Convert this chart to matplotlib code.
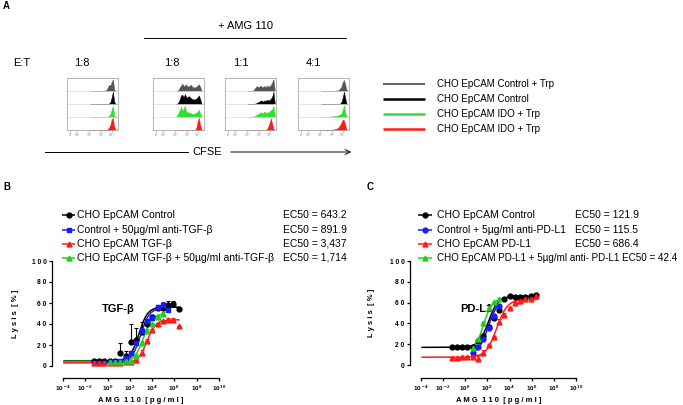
import numpy as np
import matplotlib
matplotlib.use("Agg")
import matplotlib.pyplot as plt
from matplotlib.ticker import FuncFormatter, NullLocator

plt.rcParams['font.family'] = ['Liberation Sans', 'DejaVu Sans']
plt.rcParams['mathtext.fontset'] = 'custom'
plt.rcParams['mathtext.rm'] = 'Liberation Sans'
plt.rcParams['mathtext.bf'] = 'Liberation Sans:bold'

W, H = 683, 405

# ---------------- panel A data (CFSE histograms, relative heights) ----------------
ratios = ['1:8', '1:8', '1:1', '4:1']
hist_bins = [0.45, 0.475, 0.50, 0.525, 0.55, 0.575, 0.60, 0.625, 0.65, 0.675, 0.70,
             0.725, 0.75, 0.775, 0.80, 0.825, 0.85, 0.875, 0.90, 0.925, 0.95, 0.975]
hist_colors = ['#555555', '#000000', '#33dd33', '#ff1a1a']
hist_labels = ['CHO EpCAM Control + Trp', 'CHO EpCAM Control',
               'CHO EpCAM IDO + Trp', 'CHO EpCAM IDO + Trp']

box1 = [
    [0, 0, 0, 0, 0, 0, 0, 0, 0, 0, 0, 0, 0.03, 0.1, 0.3, 0.5, 0.45, 0.75, 0.95, 0.15, 0, 0],
    [0, 0, 0, 0, 0, 0, 0, 0, 0, 0, 0, 0, 0, 0, 0, 0.05, 0.15, 0.55, 1.0, 0.2, 0, 0],
    [0, 0, 0, 0, 0, 0, 0, 0, 0, 0, 0, 0, 0, 0, 0.03, 0.1, 0.25, 0.6, 0.9, 0.15, 0, 0],
    [0, 0, 0, 0, 0, 0, 0, 0, 0, 0, 0, 0, 0, 0.03, 0.08, 0.2, 0.45, 0.85, 1.0, 0.3, 0.02, 0],
]
box2 = [
    [0, 0.02, 0.1, 0.3, 0.45, 0.6, 0.4, 0.45, 0.55, 0.35, 0.4, 0.45, 0.5, 0.3, 0.3, 0.3, 0.35, 0.45, 0.55, 0.35, 0.05, 0],
    [0, 0.03, 0.15, 0.4, 0.7, 0.75, 0.55, 0.8, 0.6, 0.5, 0.65, 0.55, 0.45, 0.4, 0.35, 0.4, 0.45, 0.55, 0.7, 0.4, 0.05, 0],
    [0.02, 0.15, 0.35, 0.55, 0.85, 0.5, 0.7, 0.9, 0.45, 0.35, 0.4, 0.3, 0.3, 0.25, 0.25, 0.3, 0.35, 0.45, 0.6, 0.3, 0.03, 0],
    [0, 0, 0, 0, 0, 0, 0, 0, 0, 0, 0, 0, 0, 0, 0, 0.03, 0.2, 0.7, 1.0, 0.4, 0.05, 0],
]
box3 = [
    [0, 0, 0, 0.02, 0.05, 0.15, 0.3, 0.4, 0.3, 0.35, 0.45, 0.3, 0.35, 0.4, 0.3, 0.45, 0.35, 0.4, 0.5, 0.7, 0.95, 0.1],
    [0, 0, 0, 0, 0, 0.02, 0.05, 0.1, 0.15, 0.2, 0.3, 0.25, 0.2, 0.3, 0.25, 0.35, 0.3, 0.3, 0.45, 0.6, 1.0, 0.1],
    [0, 0, 0, 0, 0.02, 0.05, 0.1, 0.2, 0.25, 0.3, 0.4, 0.3, 0.35, 0.45, 0.3, 0.4, 0.35, 0.45, 0.55, 0.65, 0.9, 0.1],
    [0, 0, 0, 0, 0, 0, 0, 0, 0, 0, 0, 0, 0, 0, 0.03, 0.1, 0.3, 0.6, 0.95, 0.5, 0.1, 0],
]
box4 = [
    [0, 0, 0, 0, 0, 0, 0, 0, 0, 0, 0, 0, 0.02, 0.05, 0.1, 0.2, 0.35, 0.7, 0.9, 0.55, 0.1, 0],
    [0, 0, 0, 0, 0, 0, 0, 0, 0, 0, 0, 0, 0, 0, 0, 0.05, 0.15, 0.5, 1.0, 0.5, 0.05, 0],
    [0, 0, 0, 0, 0, 0, 0.02, 0.03, 0.05, 0.05, 0.07, 0.08, 0.1, 0.12, 0.15, 0.2, 0.3, 0.55, 0.95, 0.4, 0.05, 0],
    [0, 0, 0, 0, 0, 0, 0, 0, 0.02, 0.03, 0.05, 0.07, 0.1, 0.15, 0.25, 0.4, 0.6, 0.85, 0.8, 0.45, 0.05, 0],
]
hist_sets = [box1, box2, box3, box4]
hist_ticks = [0.06, 0.2, 0.43, 0.67, 0.88]
hist_ticklabels = ['0', '10²', '10³', '10⁴', '10⁵']

# ---------------- panels B / C data (lysis %) ----------------
conc = np.array([0.0574, 0.172, 0.517, 1.55, 4.65, 14.0, 41.8, 125, 376, 1129, 3387,
                 10160, 30480, 91450, 274300, 823000, 2500000])
nan = np.nan

b_ctrl = [5, 5, 5, 5, 5, 12, 10, 23, 25, 32, 40, 47, 55, 55, 58, 59, 54]
b_ctrl_err = [0, 0, 0, 0, 0, 10, 4, 17, 11, 10, 3, 2, 2, 2, 4, 3, 0]
b_anti = [3, 3, 3, 3.5, 3.5, 5, 8, 12, 22, 33, 43, 46, 56, 58, 53, nan, nan]
b_anti_err = [0, 0, 0, 0, 0, 0, 0, 2, 3, 3, 2, 2, 2, 3, 2, 0, 0]
b_tgf = [3, 3, 3, 3, 3, 3, 3.5, 4, 5.5, 12, 24, 34, 40, 43, 44, 44, 38]
b_tgf_err = [0, 0, 0, 0, 0, 0, 0, 0, 1, 3, 2, 1, 1, 1, 2, 2, 0]
b_tgfanti = [nan, nan, nan, 4, 4, 4, 4.5, 5, 10, 22, 33, 40, 47, 50, nan, nan, nan]
b_tgfanti_err = [0, 0, 0, 0, 0, 0, 0, 0, 1, 2, 2, 1, 1, 1, 0, 0, 0]

c_ctrl = [17, 17, 17.5, 17, 17.5, 23, 28, 37, 45, 53, 63, 66, 65.5, 65, 65, 66, 67]
c_ctrl_err = [0, 0, 0, 0, 0, 1, 1, 1, 1, 1, 1, 1, 0, 0, 0, 1, 1]
c_anti = [nan, nan, nan, nan, 12, 17, 25, 36, 47, 57, nan, nan, nan, nan, nan, nan, nan]
c_anti_err = [0, 0, 0, 0, 1, 1, 1, 1, 1, 1, 0, 0, 0, 0, 0, 0, 0]
c_pdl1 = [7, 7, 7.5, 7.5, 7.5, 6, 12, 19, 27, 41, 48, 55, 60, 62, 63, 63, 66]
c_pdl1_err = [0, 0, 0, 0, 0, 3, 2.5, 1, 1, 3, 2, 1, 1, 1, 1, 1, 1]
c_pdl1anti = [nan, nan, nan, nan, 16, 25, 40, 55, 61, 63, nan, nan, nan, nan, nan, nan, nan]
c_pdl1anti_err = [0, 0, 0, 0, 1, 1, 1, 3, 1, 1, 0, 0, 0, 0, 0, 0, 0]

# fitted 4PL parameters: bottom, top, EC50, hill
b_fits = [(5, 56, 643.2, 1.1), (3.5, 55, 891.9, 1.1), (3, 44, 3437, 1.1), (4.5, 50, 1714, 1.1)]
c_fits = [(17, 66, 121.9, 1.0), (10, 63, 115.5, 1.0), (7.5, 63, 686.4, 0.9), (12, 64, 42.4, 1.1)]

b_labels = ['CHO EpCAM Control', 'Control + 50µg/ml anti-TGF-β', 'CHO EpCAM TGF-β',
            'CHO EpCAM TGF-β + 50µg/ml anti-TGF-β']
b_ec50 = ['EC50 = 643.2', 'EC50 = 891.9', 'EC50 = 3,437', 'EC50 = 1,714']
c_labels = ['CHO EpCAM Control', 'Control + 5µg/ml anti-PD-L1', 'CHO EpCAM PD-L1',
            'CHO EpCAM PD-L1 + 5µg/ml anti- PD-L1 EC50 = 42.4']
c_ec50 = ['EC50 = 121.9', 'EC50 = 115.5', 'EC50 = 686.4', '']

colors = ['#000000', '#1a1aff', '#ff1a1a', '#22cc22']
b_markers = ['o', 's', '^', '^']
c_markers = ['o', 'o', '^', '^']


def rect(x0, y0, x1, y1):
    return [x0 / W, 1 - y1 / H, (x1 - x0) / W, (y1 - y0) / H]


fig = plt.figure(figsize=(W / 100, H / 100), dpi=100)
ov = fig.add_axes([0, 0, 1, 1])
ov.set_xlim(0, W)
ov.set_ylim(H, 0)
ov.axis('off')

# ---- panel A ----
ov.text(3, 6, 'A', fontsize=7, weight='bold', va='center')
ov.text(245, 26, '+ AMG 110', fontsize=8, ha='center', va='center')
ov.plot([144, 346], [38, 38], color='k', lw=0.7)
ov.text(22, 63, 'E:T', fontsize=8, ha='center', va='center')
box_x = [67, 153, 225, 298]
ratio_x = [82, 172, 241, 313]
for rx, r in zip(ratio_x, ratios):
    ov.text(rx, 63, r, fontsize=8, ha='center', va='center')

for x0, hists in zip(box_x, hist_sets):
    ax = fig.add_axes(rect(x0, 78, x0 + 51, 130))
    ax.set_xlim(0, 1)
    ax.set_ylim(0, 4)
    for k, (h, c) in enumerate(zip(hists, hist_colors)):
        base = 3 - k
        ax.axhline(base, color='#dddddd', lw=0.5)
        ax.fill_between(hist_bins, base, base + np.array(h) * 0.95, color=c, lw=0.3)
    ax.set_yticks([])
    ax.set_xticks(hist_ticks)
    ax.set_xticklabels(hist_ticklabels, fontsize=2.5, color='#888888')
    ax.tick_params(axis='x', length=1.5, width=0.4, pad=1, color='#888888')
    for s in ax.spines.values():
        s.set_color('#aaaaaa')
        s.set_linewidth(0.6)

ov.plot([45, 188], [152, 152], color='k', lw=0.7)
ov.text(207, 152, 'CFSE', fontsize=8, ha='center', va='center')
ov.annotate('', xy=(354, 152), xytext=(228, 152),
            arrowprops=dict(arrowstyle='->', lw=0.7, color='k', mutation_scale=9))

leg_y = [84, 99, 114, 129]
leg_lw = [1.3, 1.8, 1.8, 1.8]
for y, c, lw, lab in zip(leg_y, hist_colors, leg_lw, hist_labels):
    ov.plot([383, 425], [y, y], color=c, lw=lw, solid_capstyle='butt')
    ov.text(437, y, lab, fontsize=7, va='center')


# ---- panels B and C ----
def dose_axes(r, dx, dy, xlab_y, ylab_x):
    ax = fig.add_axes(r)
    ax.set_facecolor('none')
    ax.set_xscale('log')
    ax.set_xlim(1e-4, 1e10)
    ax.set_ylim(0, 100)
    for s in ['top', 'right']:
        ax.spines[s].set_visible(False)
    ax.spines['left'].set_position(('outward', dx * 0.72))
    ax.spines['bottom'].set_position(('outward', dy * 0.72))
    ax.set_xticks(10.0 ** np.arange(-4, 11, 2))
    ax.xaxis.set_minor_locator(NullLocator())
    ax.xaxis.set_major_formatter(FuncFormatter(
        lambda v, p: r'$\mathbf{10^{\,%d}}$' % round(np.log10(v))))
    ax.set_yticks(range(0, 101, 20))
    ax.set_yticklabels([' '.join(str(v)) for v in range(0, 101, 20)],
                       fontsize=4.8, weight='bold')
    ax.tick_params(axis='x', labelsize=4.5)
    ax.tick_params(length=2.5, width=0.9, pad=1.5)
    for s in ['left', 'bottom']:
        ax.spines[s].set_linewidth(0.9)
    ax.set_xlabel('A M G  1 1 0  [ p g / m l ]', fontsize=5.5, weight='bold')
    ax.set_ylabel('L y s i s  [ % ]', fontsize=5.5, weight='bold')
    ax.xaxis.set_label_coords(0.5, xlab_y)
    ax.yaxis.set_label_coords(ylab_x, 0.5)
    return ax


def draw_series(ax, y, err, color, marker, fit, full_curve):
    y = np.array(y, dtype=float)
    err = np.array(err, dtype=float)
    m = ~np.isnan(y)
    ax.errorbar(conc[m], y[m], yerr=[np.zeros(m.sum()), err[m]], fmt=marker, color=color,
                ms=3.5, elinewidth=0.8, capsize=1.6, capthick=0.8, clip_on=False, zorder=3)
    bottom, top, ec50, hill = fit
    if full_curve:
        xf = np.logspace(-3.9, np.log10(conc[m][-1]), 300)
    else:
        xf = np.logspace(np.log10(conc[m][0]), np.log10(conc[m][-1]), 200)
    yf = bottom + (top - bottom) / (1 + (ec50 / xf) ** hill)
    ax.plot(xf, yf, color=color, lw=1.1, clip_on=False, zorder=2)


axb = dose_axes(rect(63, 261, 219, 366), 11, 12, -0.30, -0.28)
b_data = [(b_ctrl, b_ctrl_err), (b_anti, b_anti_err), (b_tgf, b_tgf_err), (b_tgfanti, b_tgfanti_err)]
for (y, e), c, mk, f in zip(b_data, colors, b_markers, b_fits):
    draw_series(axb, y, e, c, mk, f, True)
axb.text(1e1, 54, 'TGF-β', fontsize=8, weight='bold', ha='center', va='center')

axc = dose_axes(rect(421, 261, 576, 365), 11, 13, -0.31, -0.30)
c_data = [(c_ctrl, c_ctrl_err), (c_anti, c_anti_err), (c_pdl1, c_pdl1_err), (c_pdl1anti, c_pdl1anti_err)]
for (y, e), c, mk, f, full in zip(c_data, colors, c_markers, c_fits, [True, False, True, False]):
    draw_series(axc, y, e, c, mk, f, full)
axc.text(0.9e1, 54, 'PD-L1', fontsize=8, weight='bold', ha='center', va='center')

ov.text(3, 187, 'B', fontsize=7, weight='bold', va='center')
ov.text(367, 187, 'C', fontsize=7, weight='bold', va='center')

rows = [215, 230, 244, 258]
for y, c, mk, lab, ec in zip(rows, colors, b_markers, b_labels, b_ec50):
    ov.plot([62, 68.5, 75], [y, y, y], color=c, lw=1.1, marker=mk, ms=3.5, markevery=[1],
            solid_capstyle='butt')
    ov.text(77, y, lab, fontsize=7.5, va='center')
    ov.text(283, y, ec, fontsize=7.5, va='center')

for y, c, mk, lab, ec in zip(rows, colors, c_markers, c_labels, c_ec50):
    ov.plot([418, 425, 432], [y, y, y], color=c, lw=1.1, marker=mk, ms=3.5, markevery=[1],
            solid_capstyle='butt')
    ov.text(437, y, lab, fontsize=7.5 if ec else 7.1, va='center')
    ov.text(575, y, ec, fontsize=7.5, va='center')

fig.savefig('out.png', dpi=100)
